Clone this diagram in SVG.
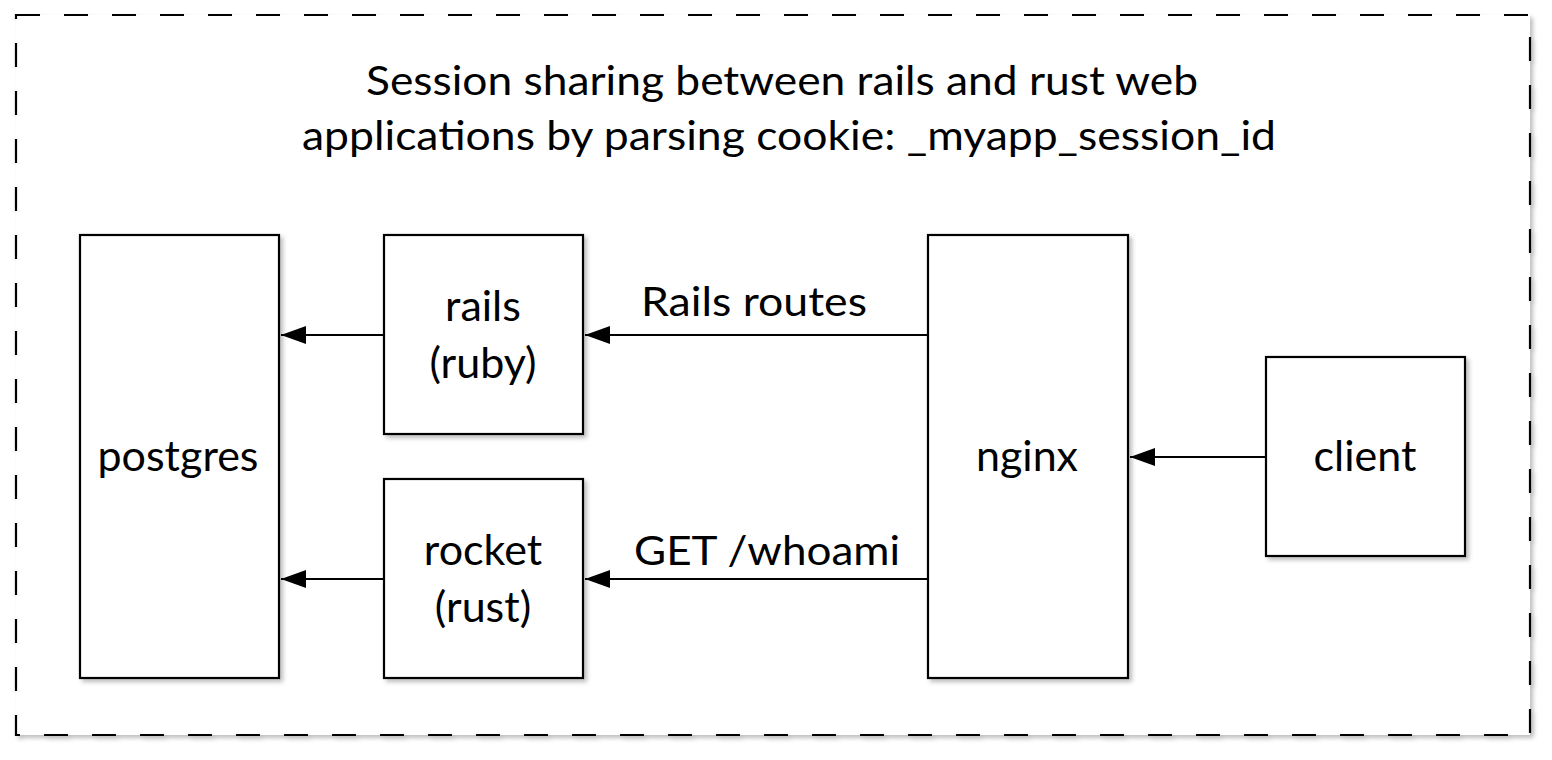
<svg xmlns="http://www.w3.org/2000/svg" width="1552" height="760" viewBox="0 0 1552 760">
<style>
.box{fill:#fff;stroke:#000;stroke-width:2.2}
.t{font-family:Lato,"Open Sans","Liberation Sans",sans-serif;font-size:41px;fill:#000;text-anchor:middle}
.n{font-size:43px}
.ln{stroke:#000;stroke-width:2.2;fill:none}
</style>
<defs>
<filter id="sh" x="-10%" y="-10%" width="130%" height="130%">
<feDropShadow dx="3" dy="3" stdDeviation="2" flood-color="#000" flood-opacity="0.25"/>
</filter>
<marker id="ah" markerUnits="userSpaceOnUse" markerWidth="26" markerHeight="20" refX="25" refY="10" orient="auto">
<polygon points="25,10 0,1 0,19" fill="#000"/>
</marker>
</defs>
<rect x="0" y="0" width="1552" height="760" fill="#fff"/>
<g id="frame">
<rect x="16" y="15" width="1514" height="720" fill="#fff" stroke="#000" stroke-width="2.2" stroke-dasharray="24 24" filter="url(#sh)"/>
<text class="t" x="782" y="95" textLength="832" lengthAdjust="spacingAndGlyphs">Session sharing between rails and rust web</text>
<text class="t" x="789" y="150" textLength="974" lengthAdjust="spacingAndGlyphs">applications by parsing cookie: _myapp_session_id</text>
</g>
<g id="postgres">
<rect class="box" x="80" y="235" width="199" height="443" filter="url(#sh)"/>
<text class="t n" x="178" y="471">postgres</text>
</g>
<g id="rails">
<rect class="box" x="384" y="235" width="199" height="199" filter="url(#sh)"/>
<text class="t n" x="483" y="321">rails</text>
<text class="t n" x="483" y="378">(ruby)</text>
</g>
<g id="rocket">
<rect class="box" x="384" y="479" width="199" height="199" filter="url(#sh)"/>
<text class="t n" x="483" y="565">rocket</text>
<text class="t n" x="483" y="622">(rust)</text>
</g>
<g id="nginx">
<rect class="box" x="928" y="235" width="200" height="443" filter="url(#sh)"/>
<text class="t n" x="1027" y="471">nginx</text>
</g>
<g id="client">
<rect class="box" x="1266" y="357" width="199" height="199" filter="url(#sh)"/>
<text class="t n" x="1365" y="471">client</text>
</g>
<g id="connectors">
<line class="ln" x1="384" y1="335" x2="281" y2="335" marker-end="url(#ah)"/>
<line class="ln" x1="384" y1="579" x2="281" y2="579" marker-end="url(#ah)"/>
<line class="ln" x1="928" y1="335" x2="585" y2="335" marker-end="url(#ah)"/>
<line class="ln" x1="928" y1="579" x2="585" y2="579" marker-end="url(#ah)"/>
<line class="ln" x1="1266" y1="457" x2="1130" y2="457" marker-end="url(#ah)"/>
<text class="t" x="754" y="316" textLength="226" lengthAdjust="spacingAndGlyphs">Rails routes</text>
<text class="t" x="767" y="565" textLength="266" lengthAdjust="spacingAndGlyphs">GET /whoami</text>
</g>
</svg>
